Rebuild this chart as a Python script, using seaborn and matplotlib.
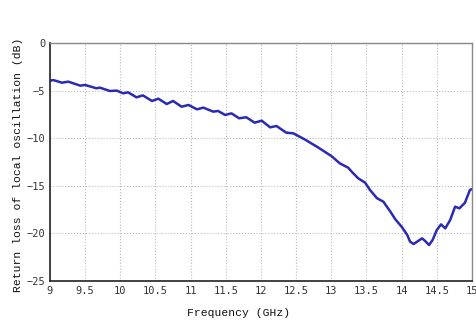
import matplotlib
matplotlib.use("Agg")
import matplotlib.pyplot as plt
import seaborn as sns
import pandas as pd
from matplotlib.ticker import MultipleLocator

freq_ghz = [9.00, 9.05, 9.17, 9.26, 9.43, 9.50, 9.66, 9.71, 9.85, 9.95, 10.04, 10.11,
            10.23, 10.32, 10.45, 10.54, 10.66, 10.75, 10.87, 10.97, 11.09, 11.18, 11.32,
            11.39, 11.49, 11.58, 11.69, 11.79, 11.91, 12.01, 12.13, 12.22, 12.36, 12.46,
            12.62, 12.81, 13.00, 13.12, 13.24, 13.29, 13.38, 13.48, 13.55, 13.65, 13.74,
            13.84, 13.91, 14.00, 14.08, 14.12, 14.17, 14.22, 14.29, 14.33, 14.39, 14.44,
            14.50, 14.56, 14.62, 14.69, 14.76, 14.82, 14.90, 14.97, 15.00]
return_loss_db = [-3.95, -3.90, -4.17, -4.06, -4.48, -4.41, -4.76, -4.69, -5.04, -5.00, -5.29,
                  -5.18, -5.71, -5.50, -6.09, -5.85, -6.41, -6.09, -6.69, -6.51, -6.97, -6.79,
                  -7.21, -7.14, -7.56, -7.39, -7.91, -7.80, -8.37, -8.16, -8.86, -8.72, -9.42,
                  -9.49, -10.12, -10.96, -11.87, -12.64, -13.10, -13.52, -14.20, -14.67, -15.44,
                  -16.31, -16.67, -17.72, -18.52, -19.30, -20.17, -20.87, -21.11, -20.87, -20.52,
                  -20.77, -21.22, -20.69, -19.64, -19.05, -19.47, -18.59, -17.19, -17.37, -16.78,
                  -15.44, -15.34]
x_ticks = [9, 9.5, 10, 10.5, 11, 11.5, 12, 12.5, 13, 13.5, 14, 14.5, 15]
x_tick_labels = ["9", "9.5", "10", "10.5", "11", "11.5", "12", "12.5", "13", "13.5", "14", "14.5", "15"]
y_ticks = [0, -5, -10, -15, -20, -25]

df = pd.DataFrame({"f": freq_ghz, "rl": return_loss_db})

sns.set_style("white")
plt.rcParams["font.family"] = ["DejaVu Sans Mono", "DejaVu Sans"]

fig = plt.figure(figsize=(4.77, 3.22), dpi=100)
ax = fig.add_axes([0.1048, 0.1273, 0.8847, 0.7392])
sns.lineplot(data=df, x="f", y="rl", ax=ax, color="#2a2ab4", linewidth=1.8)

ax.set_xlim(9, 15)
ax.set_ylim(-25, 0)
ax.set_xticks(x_ticks)
ax.set_xticklabels(x_tick_labels)
ax.set_yticks(y_ticks)
ax.xaxis.set_minor_locator(MultipleLocator(0.25))
ax.yaxis.set_minor_locator(MultipleLocator(1))
ax.tick_params(which="both", direction="in", colors="#333333", labelsize=7.5)
ax.tick_params(which="major", length=4, width=0.8)
ax.tick_params(which="minor", length=2, width=0.6)
ax.grid(True, which="major", linestyle=":", color="#bbbbbb", linewidth=0.8)

for s in ["left", "bottom"]:
    ax.spines[s].set_color("#222222")
    ax.spines[s].set_linewidth(1.2)
for s in ["top", "right"]:
    ax.spines[s].set_color("#888888")
    ax.spines[s].set_linewidth(1.0)

ax.set_xlabel("Frequency (GHz)", family=["Liberation Mono"], fontsize=8.2, color="#111111")
ax.set_ylabel("Return loss of local oscillation (dB)", family=["Liberation Mono"], fontsize=8.2,
              color="#111111")
ax.xaxis.set_label_coords(0.448, -0.113)
ax.yaxis.set_label_coords(-0.064, 0.49)

fig.savefig("out.png", dpi=100)
